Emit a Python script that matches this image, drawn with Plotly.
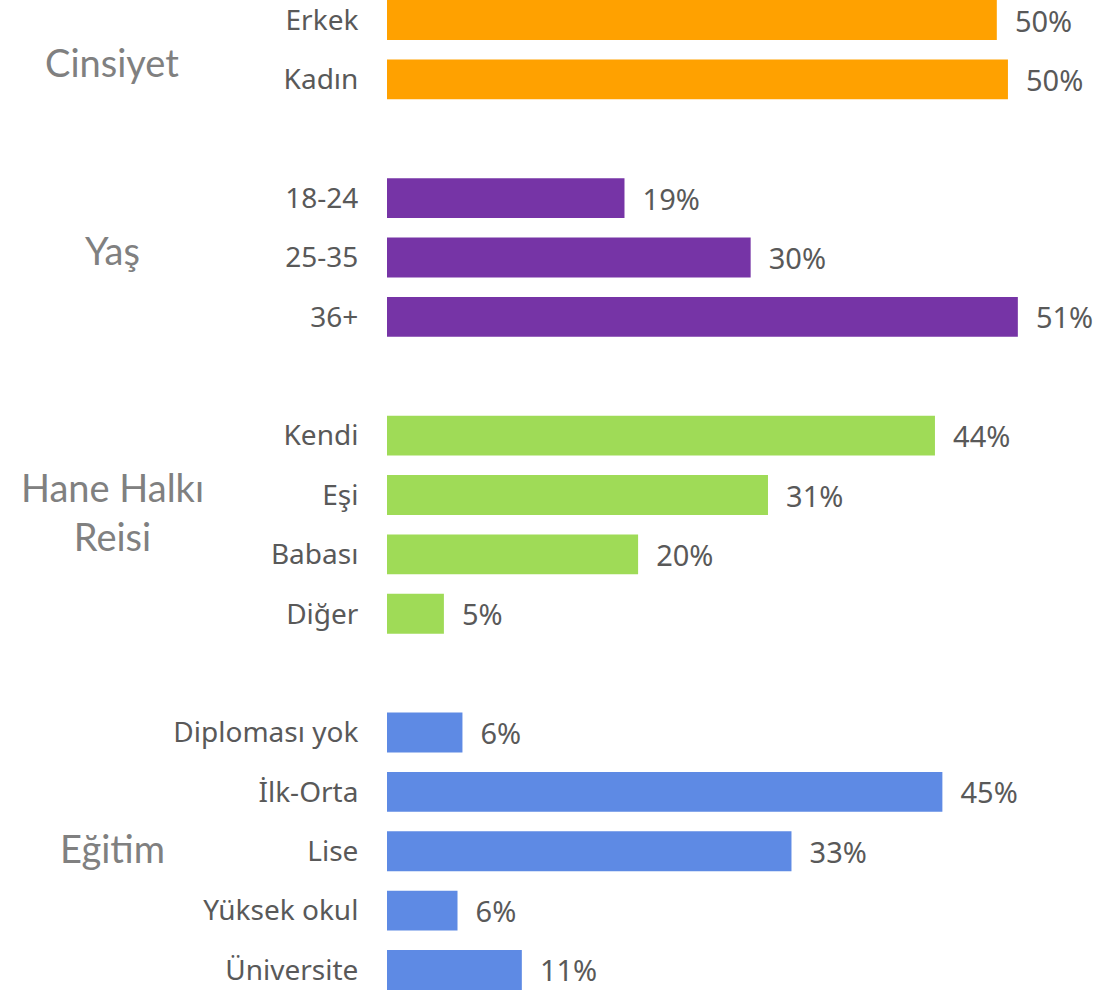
import plotly.graph_objects as go

# data
groups = ["Cinsiyet", "Yaş", "Hane Halkı<br>Reisi", "Eğitim"]
group_colors = ["#FFA100", "#7634A6", "#9FDB57", "#5E8AE4"]

cinsiyet_labels = ["Erkek", "Kadın"]
cinsiyet_values = [49.3, 50.2]
cinsiyet_text = ["50%", "50%"]

yas_labels = ["18-24", "25-35", "36+"]
yas_values = [19.2, 29.4, 51.0]
yas_text = ["19%", "30%", "51%"]

hane_labels = ["Kendi", "Eşi", "Babası", "Diğer"]
hane_values = [44.3, 30.8, 20.3, 4.6]
hane_text = ["44%", "31%", "20%", "5%"]

egitim_labels = ["Diploması yok", "İlk-Orta", "Lise", "Yüksek okul", "Üniversite"]
egitim_values = [6.1, 44.9, 32.7, 5.7, 10.9]
egitim_text = ["6%", "45%", "33%", "6%", "11%"]

all_labels = [cinsiyet_labels, yas_labels, hane_labels, egitim_labels]
all_values = [cinsiyet_values, yas_values, hane_values, egitim_values]
all_text = [cinsiyet_text, yas_text, hane_text, egitim_text]

# small vertical nudges of the group titles (in rows)
title_nudge = [0.2, -0.13, -0.22, -0.06]

FONT = "Noto Sans"
TXT = "#595959"

fig = go.Figure()
tickvals, ticktext = [], []
slot = 0
for gi in range(len(groups)):
    ys = list(range(slot, slot + len(all_labels[gi])))
    fig.add_trace(go.Bar(
        x=all_values[gi], y=ys, orientation="h",
        marker=dict(color=group_colors[gi], line=dict(width=0)),
        text=all_text[gi], texttemplate="\u00a0\u00a0%{text}",
        textposition="outside", cliponaxis=False, constraintext="none",
        textfont=dict(family=FONT, size=29, color=TXT),
        width=0.67, showlegend=False, hoverinfo="skip",
    ))
    tickvals += ys
    ticktext += all_labels[gi]
    # group title
    fig.add_annotation(
        x=-0.387, xref="paper", y=(ys[0] + ys[-1]) / 2 + title_nudge[gi], yref="y",
        text=groups[gi], showarrow=False, xanchor="center", yanchor="middle",
        font=dict(family="Lato", size=38, color="#808080"),
    )
    slot += len(all_labels[gi]) + 1

fig.update_layout(
    width=1097, height=990,
    margin=dict(l=387, r=0, t=0, b=0),
    plot_bgcolor="white", paper_bgcolor="white",
    xaxis=dict(range=[0, 57.4], visible=False),
    yaxis=dict(
        range=[slot - 1 - 0.663, -0.337],
        tickvals=tickvals, ticktext=ticktext,
        ticks="outside", ticklen=22, tickcolor="rgba(0,0,0,0)",
        ticklabeloverflow="allow",
        tickfont=dict(family=FONT, size=28, color=TXT),
        showgrid=False, zeroline=False, showline=False,
    ),
)

# drop the default 8px page margin so the figure fills the window
fig.write_html(
    "out.html",
    config={"displayModeBar": False},
    post_script="document.body.style.margin='0';",
)
